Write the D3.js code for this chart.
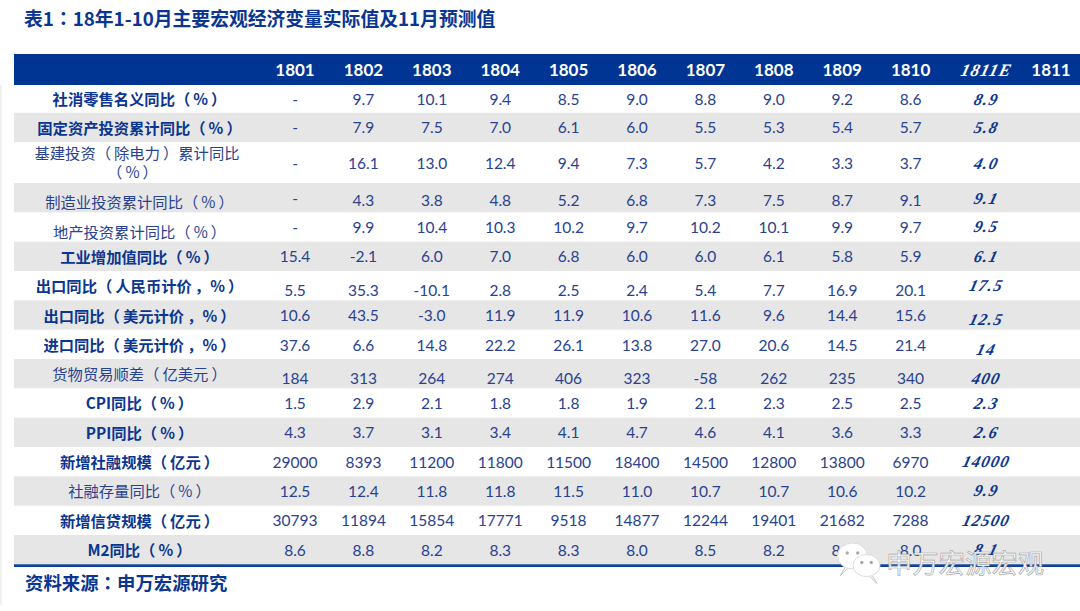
<!DOCTYPE html>
<html><head><meta charset="utf-8">
<script src="https://cdn.jsdelivr.net/npm/d3@7"></script>
<style>html,body{margin:0;padding:0;background:#fff;overflow:hidden}svg{display:block}</style>
</head><body><svg id="c" width="1080" height="611"></svg>
<script>
const titleText = "表1：18年1-10月主要宏观经济变量实际值及11月预测值";
const sourceText = "资料来源：申万宏源研究";
const watermarkText = "申万宏源宏观";
const columns = ["1801","1802","1803","1804","1805","1806","1807","1808","1809","1810","1811E","1811"];
const rowLabels = [
  ["社消零售名义同比（%）"],["固定资产投资累计同比（%）"],["基建投资（除电力）累计同比","（%）"],
  ["制造业投资累计同比（%）"],["地产投资累计同比（%）"],["工业增加值同比（%）"],
  ["出口同比（人民币计价，%）"],["出口同比（美元计价，%）"],["进口同比（美元计价，%）"],
  ["货物贸易顺差（亿美元）"],["CPI同比（%）"],["PPI同比（%）"],["新增社融规模（亿元）"],
  ["社融存量同比（%）"],["新增信贷规模（亿元）"],["M2同比（%）"]];
const boldRows = [0,1,5,6,7,8,10,11,12,14,15];
const r01 = ["-","9.7","10.1","9.4","8.5","9.0","8.8","9.0","9.2","8.6","8.9",""];
const r02 = ["-","7.9","7.5","7.0","6.1","6.0","5.5","5.3","5.4","5.7","5.8",""];
const r03 = ["-","16.1","13.0","12.4","9.4","7.3","5.7","4.2","3.3","3.7","4.0",""];
const r04 = ["-","4.3","3.8","4.8","5.2","6.8","7.3","7.5","8.7","9.1","9.1",""];
const r05 = ["-","9.9","10.4","10.3","10.2","9.7","10.2","10.1","9.9","9.7","9.5",""];
const r06 = ["15.4","-2.1","6.0","7.0","6.8","6.0","6.0","6.1","5.8","5.9","6.1",""];
const r07 = ["5.5","35.3","-10.1","2.8","2.5","2.4","5.4","7.7","16.9","20.1","17.5",""];
const r08 = ["10.6","43.5","-3.0","11.9","11.9","10.6","11.6","9.6","14.4","15.6","12.5",""];
const r09 = ["37.6","6.6","14.8","22.2","26.1","13.8","27.0","20.6","14.5","21.4","14",""];
const r10 = ["184","313","264","274","406","323","-58","262","235","340","400",""];
const r11 = ["1.5","2.9","2.1","1.8","1.8","1.9","2.1","2.3","2.5","2.5","2.3",""];
const r12 = ["4.3","3.7","3.1","3.4","4.1","4.7","4.6","4.1","3.6","3.3","2.6",""];
const r13 = ["29000","8393","11200","11800","11500","18400","14500","12800","13800","6970","14000",""];
const r14 = ["12.5","12.4","11.8","11.8","11.5","11.0","10.7","10.7","10.6","10.2","9.9",""];
const r15 = ["30793","11894","15854","17771","9518","14877","12244","19401","21682","7288","12500",""];
const r16 = ["8.6","8.8","8.2","8.3","8.3","8.0","8.5","8.2","8.3","8.0","8.1",""];
const rows = [r01,r02,r03,r04,r05,r06,r07,r08,r09,r10,r11,r12,r13,r14,r15,r16];

const BLUE="#0a3590", TEXT="#28428f", GREY="#e6e6e6", CJK="'Noto Sans CJK SC'", CJKTC="'Noto Sans CJK TC'", NUM="Lato,'Noto Sans',sans-serif", FORE="'Liberation Serif',serif";
const SKEW=-14;
const svg=d3.select("#c");
svg.append("rect").attr("x",0).attr("y",85).attr("width",2).attr("height",520).attr("fill","#f1f1f1");

const x=d3.scaleOrdinal().domain(columns).range(columns.map((c,i)=> i<10?295+68.4*i : (i===10?985:1051)));
const tall=rowLabels.map((l,i)=>l.length>1?41:(i===0?27.7:29.33));
const tops=d3.cumsum([85,...tall]);
const labelX=139.5;
const valShift=[0.3,0.5,0.5,3.2,0.5,0.2,5.2,0.6,0.7,5,0.4,0.6,0.7,0.3,0,0.7];
const foreShift=[0.5,0.5,0.5,1,-0.5,0.2,-0.5,4.5,5.5,4.5,0,0,0,0,0,0];
const labelShift=[0.7,1.2,0.7,4.9,5.5,1.2,1,1.5,1.5,1,0.7,1.5,1,0.7,1.5,1];
const spaced=t=>t.replace(/（/g,"（\u2009").replace(/）/g,"\u2009）").replace(/，/g,"\u2009，");

function colonText(sel,text){
  const parts=text.split("：");
  sel.append("tspan").text(parts[0]);
  sel.append("tspan").attr("font-family",CJKTC).text("：");
  sel.append("tspan").text(parts[1]);
}
svg.append("text").attr("x",24).attr("y",26).attr("font-family",CJK).attr("font-weight",700)
  .attr("font-size",18.8).attr("fill",BLUE).call(colonText,titleText);
svg.append("rect").attr("x",14).attr("y",54).attr("width",1066).attr("height",31).attr("fill","#003594");

svg.append("g").selectAll("text").data(columns).join("text")
  .attr("transform",d=>`translate(${x(d)},75.5)`+(d==="1811E"?` skewX(${SKEW})`:""))
  .attr("text-anchor","middle")
  .attr("font-family",d=>d==="1811E"?FORE:NUM)
  .attr("font-style",d=>d==="1811E"?"italic":"normal")
  .attr("font-weight",700).attr("font-size",d=>d==="1811E"?17.5:17)
  .attr("letter-spacing",d=>d==="1811E"?1:0).attr("fill","#fff").text(d=>d);

const rowG=svg.selectAll("g.row").data(rows).join("g").attr("class","row")
  .attr("transform",(d,i)=>`translate(0,${tops[i]})`);
rowG.append("rect").attr("x",14).attr("width",1066).attr("height",(d,i)=>tall[i]+0.5)
  .attr("fill",(d,i)=>i%2?GREY:"#fff");
rowG.each(function(vals,i){
  const g=d3.select(this), h=tall[i], bold=boldRows.includes(i), lines=rowLabels[i];
  lines.forEach((t,k)=>{
    g.append("text").attr("x",labelX-(lines.length>1?(k===0?2.5:7):0)).attr("text-anchor","middle")
      .attr("y",h/2+5.5+labelShift[i]+(lines.length>1?(k-0.5)*19.5:0))
      .attr("font-family",CJK).attr("font-weight",bold?700:400)
      .attr("font-size",15.3).attr("fill",bold?BLUE:TEXT).text(spaced(t));
  });
  g.selectAll("text.v").data(vals.map((v,j)=>({v,c:columns[j]}))).join("text").attr("class","v")
    .attr("transform",d=>{
      const isF=d.c==="1811E";
      const y=h/2+5.5+(isF?foreShift[i]:(d.v==="-"&&i===3?0.5:valShift[i]));
      return `translate(${x(d.c)},${y})`+(isF?` skewX(${SKEW})`:"");
    })
    .attr("text-anchor","middle")
    .attr("font-family",d=>d.c==="1811E"?FORE:NUM)
    .attr("font-style",d=>d.c==="1811E"?"italic":"normal")
    .attr("font-weight",d=>d.c==="1811E"?700:400)
    .attr("font-size",d=>d.c==="1811E"?16.5:15.5)
    .attr("letter-spacing",d=>d.c==="1811E"?1.2:0)
    .attr("fill",d=>d.c==="1811E"?BLUE:TEXT).text(d=>d.v);
});
const bottom=tops[rows.length];
svg.append("rect").attr("x",14).attr("y",bottom).attr("width",1066).attr("height",2.7).attr("fill","#0f4199");
svg.append("text").attr("x",25).attr("y",590).attr("font-family",CJK).attr("font-weight",700)
  .attr("font-size",18.4).attr("fill",BLUE).call(colonText,sourceText);

// watermark
const wm=svg.append("g");
const bubble=(cx,cy,rx,ry,tx,dir)=>{
  wm.append("path").attr("d",`M${tx},${cy+ry-3} l${dir*6},10 l${-dir*8},-8 z`).attr("fill","#fff").attr("stroke","#c4c4c4").attr("stroke-width",1);
  wm.append("ellipse").attr("cx",cx).attr("cy",cy).attr("rx",rx).attr("ry",ry).attr("fill","#fff").attr("stroke","#dcdcdc").attr("stroke-width",1);
  wm.append("circle").attr("cx",cx-rx*0.35).attr("cy",cy-3).attr("r",1.7).attr("fill","#aaa");
  wm.append("circle").attr("cx",cx+rx*0.35).attr("cy",cy-3).attr("r",1.7).attr("fill","#aaa");
};
bubble(852.5,556,15,13,846,-1);
bubble(866.5,565.5,13.5,11,871,1);
wm.append("text").attr("x",886).attr("y",573).attr("font-family",CJK).attr("font-size",26)
  .attr("font-weight",400).attr("fill","#fff").attr("stroke","#a8a8a8").attr("stroke-width",0.7)
  .attr("textLength",158).text(watermarkText);
</script></body></html>
